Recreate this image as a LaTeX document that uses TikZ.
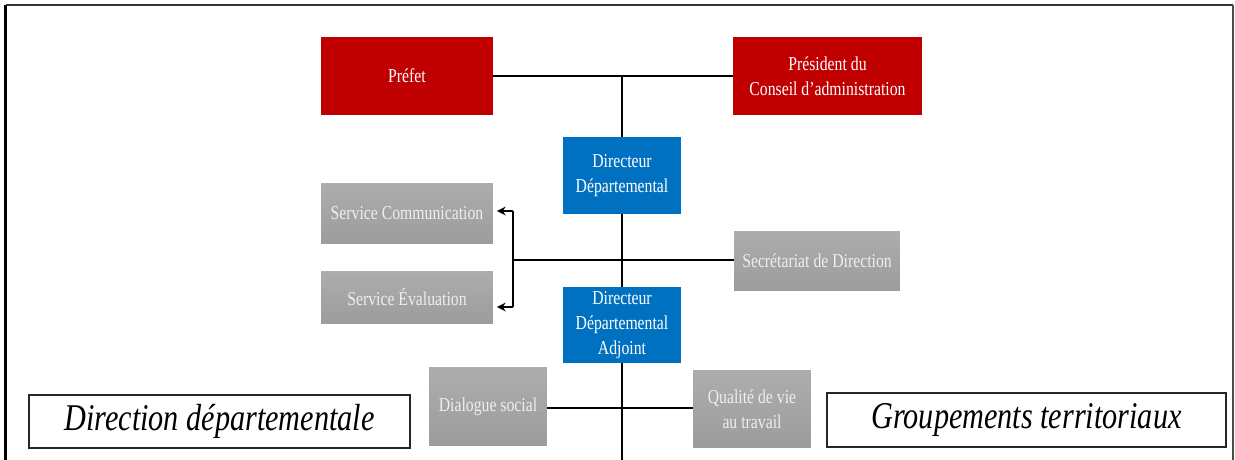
\documentclass[tikz,border=0pt]{standalone}
\usepackage{fontspec}
\setmainfont{Liberation Serif}
% Narrow serif, as in the reference
\newfontfamily\narrowSerif[FakeStretch=0.8]{Liberation Serif}
\usetikzlibrary{arrows.meta, backgrounds}

\begin{document}
\begin{tikzpicture}[x=0.02cm, y=-0.02cm,
    unitBox/.style={rectangle, inner sep=2pt, align=center, text=white,
        font=\narrowSerif\fontsize{11.2}{14.2}\selectfont},
    redBox/.style={unitBox, fill=redColour},
    blueBox/.style={unitBox, fill=blueColour},
    greyBox/.style={unitBox, top color=greyTop, bottom color=greyBottom, text=greyText},
    titleBox/.style={rectangle, draw=black!85, line width=0.9pt, fill=white,
        font=\narrowSerif\fontsize{21.5}{25}\selectfont\itshape},
    link/.style={line width=1.1pt, black},
    toService/.style={link, -{Stealth[length=5pt,width=5pt]}, shorten >=2pt}]

    \definecolor{redColour}{HTML}{C00000}
    \definecolor{blueColour}{HTML}{0070C0}
    \definecolor{greyTop}{HTML}{ADADAD}
    \definecolor{greyBottom}{HTML}{9C9C9C}
    \definecolor{greyText}{HTML}{EEEEEE}

    % Fix the page size
    \useasboundingbox (0,0) rectangle (1235,460);

    % Draw outer frame (open at the bottom)
    \draw[line width=1.4pt] (5.5,462) -- (5.5,5);
    \draw[line width=1.1pt, black!80] (5.5,5) -- (1233,5);
    \draw[line width=0.6pt, black!70] (1233,5) -- (1233,462);

    % Top level
    \node[redBox, minimum width=3.44cm, minimum height=1.56cm] (prefet) at (407,76) {Préfet};
    \node[redBox, minimum width=3.78cm, minimum height=1.56cm] (president) at (827.5,76) {Président du\\Conseil d’administration};

    % Directors
    \node[blueBox, minimum width=2.36cm, minimum height=1.56cm] (dirDep) at (622,175.5) {Directeur\\Départemental};
    \node[blueBox, minimum width=2.36cm, minimum height=1.52cm] (dirDepAdj) at (622,325) {Directeur\\Départemental\\Adjoint};

    % Services
    \node[greyBox, minimum width=3.44cm, minimum height=1.22cm] (servCom) at (407,213.5) {Service Communication};
    \node[greyBox, minimum width=3.44cm, minimum height=1.06cm] (servEval) at (407,297.5) {Service Évaluation};
    \node[greyBox, minimum width=3.32cm, minimum height=1.2cm] (secDir) at (817,261) {Secrétariat de Direction};
    \node[greyBox, minimum width=2.36cm, minimum height=1.58cm] (dialogue) at (488,406.5) {Dialogue social};
    \node[greyBox, minimum width=2.36cm, minimum height=1.56cm] (qualite) at (752,409) {Qualité de vie\\au travail};

    % Titles
    \node[titleBox, minimum width=7.62cm, minimum height=1.06cm] (direction) at (219.5,421.5) {Direction départementale};
    \node[titleBox, minimum width=7.98cm, minimum height=1.08cm] (groupements) at (1026.5,420) {Groupements territoriaux};

    % Draw connectors
    \draw[link] (prefet.east) -- (president.west);
    \coordinate (spineTop) at (dirDep.north |- prefet.east);
    \coordinate (spineEnd) at (622,462);
    \begin{scope}[on background layer]
        \draw[link] (spineTop) -- (spineEnd);
    \end{scope}

    \coordinate (fork) at (513,260);
    \coordinate (forkTop) at (513,211);
    \coordinate (forkBottom) at (513,307);
    \draw[link] (secDir.west |- fork) -- (fork);
    \draw[link] (forkTop) -- (forkBottom);
    \draw[toService] (forkTop) -- (servCom.east |- forkTop);
    \draw[toService] (forkBottom) -- (servEval.east |- forkBottom);

    \draw[link] (dialogue.east |- 0,408) -- (qualite.west |- 0,408);
\end{tikzpicture}
\end{document}
